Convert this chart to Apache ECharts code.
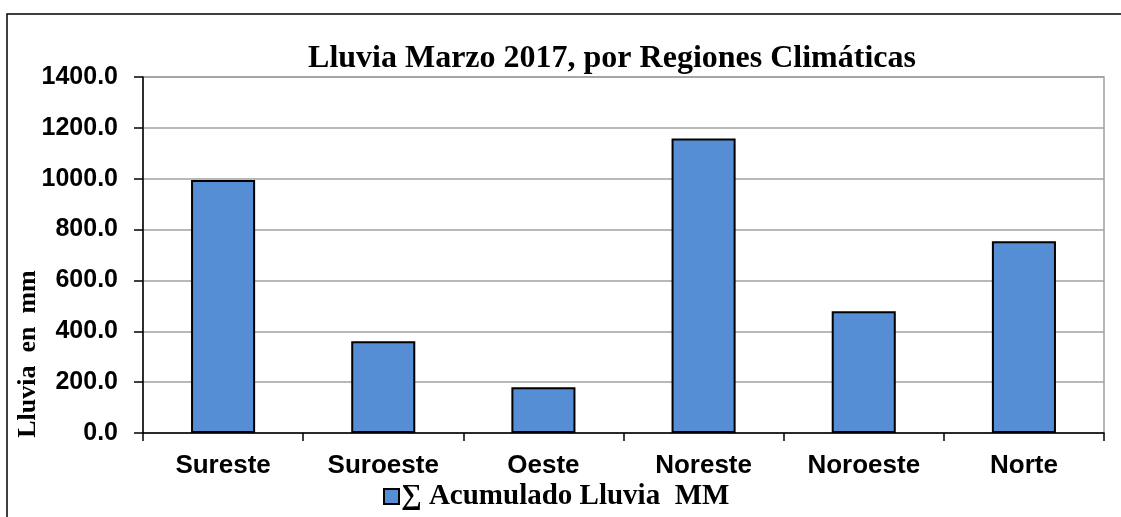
<!DOCTYPE html>
<html>
<head>
<meta charset="utf-8">
<script src="https://cdn.jsdelivr.net/npm/echarts@6/dist/echarts.min.js"></script>
<style>
  html, body { margin: 0; padding: 0; background: #fff; }
  #chart { width: 1121px; height: 517px; }
</style>
</head>
<body>
<div id="chart"></div>
<script>
// regiones climáticas
const categories = ["Sureste", "Suroeste", "Oeste", "Noreste", "Noroeste", "Norte"];
// lluvia acumulada en mm
const lluvia = [995, 361, 180, 1158, 479, 754];
const yTicks = [0, 1400, 200]; // min, max, intervalo

const myChart = echarts.init(document.getElementById("chart"));

myChart.setOption({
  backgroundColor: "#fff",
  animation: false,
  title: {
    text: "Lluvia Marzo 2017, por Regiones Climáticas",
    left: 607,
    textAlign: "center",
    top: 38,
    textStyle: {
      fontFamily: "Liberation Serif",
      fontWeight: "bold",
      fontSize: 32,
      color: "#000"
    }
  },
  legend: {
    left: 378,
    top: 477,
    itemWidth: 15,
    itemHeight: 15,
    itemGap: 4,
    icon: "rect",
    textStyle: {
      fontFamily: "Liberation Serif",
      fontWeight: "bold",
      fontSize: 29,
      color: "#000",
      padding: [0, 0, 0, -3]
    },
    data: ["∑ Acumulado Lluvia  MM"]
  },
  grid: {
    left: 143,
    top: 77,
    right: 17,
    bottom: 84,
    show: true,
    borderColor: "#a0a0a0",
    borderWidth: 1.5
  },
  graphic: [
    {
      type: "polyline",
      shape: { points: [[7, 517], [7, 14], [1121, 14]] },
      style: { stroke: "#000", lineWidth: 1.5, fill: null }
    },
    {
      type: "text",
      x: 28,
      y: 354,
      rotation: Math.PI / 2,
      style: {
        text: "Lluvia  en  mm",
        fontFamily: "Liberation Serif",
        fontWeight: "bold",
        fontSize: 26,
        fill: "#000",
        align: "center",
        verticalAlign: "middle"
      }
    }
  ],
  xAxis: {
    type: "category",
    data: categories,
    axisLine: { lineStyle: { color: "#000", width: 1.5 } },
    axisTick: { show: true, length: 8, lineStyle: { color: "#000", width: 1.5 } },
    axisLabel: {
      margin: 20,
      fontFamily: "Liberation Sans",
      fontWeight: "bold",
      fontSize: 26,
      color: "#000"
    }
  },
  yAxis: {
    type: "value",
    min: yTicks[0],
    max: yTicks[1],
    interval: yTicks[2],
    axisLine: { show: true, lineStyle: { color: "#000", width: 1.5 } },
    axisTick: { show: true, length: 9, lineStyle: { color: "#000", width: 1.5 } },
    splitLine: { lineStyle: { color: "#a0a0a0", width: 1.5 } },
    axisLabel: {
      margin: 25,
      fontFamily: "Liberation Sans",
      fontWeight: "bold",
      fontSize: 25,
      color: "#000",
      formatter: function (v) { return v.toFixed(1); }
    }
  },
  series: [
    {
      name: "∑ Acumulado Lluvia  MM",
      type: "bar",
      data: lluvia,
      barWidth: "40%",
      itemStyle: {
        color: "#558ed5",
        borderColor: "#000",
        borderWidth: 2
      }
    }
  ]
});
</script>
</body>
</html>
